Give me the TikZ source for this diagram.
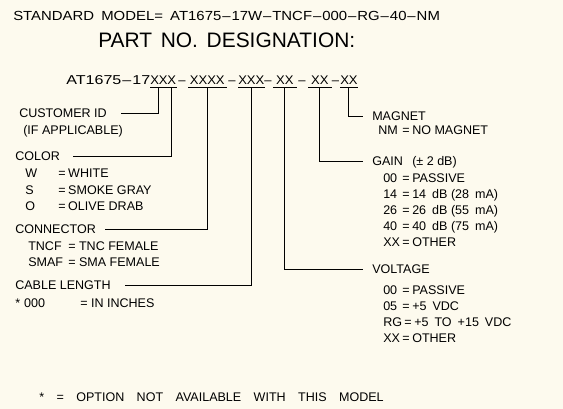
\documentclass[tikz,border=0pt]{standalone}
\usepackage{fontspec}
\setmainfont{Liberation Sans}[WordSpace=2.2]
\newfontfamily\widefont{Liberation Sans}[FakeStretch=1.04, Ligatures=TeX]
\newfontfamily\titlefont{Liberation Sans}[Ligatures=TeX]
\newcommand{\dsh}{\kern.6pt--\kern.6pt}
\newcommand{\eqto}{=\kern2pt}
\newcommand{\gp}{\hspace{4.5pt}}
\definecolor{paper}{RGB}{253,250,238}
\tikzset{
  txt/.style={anchor=base west, inner sep=0pt, font=\fontsize{9.4}{11}\selectfont},
  head/.style={txt, text depth=0pt},
  grp/.style={txt, text depth=0pt, minimum width=#1, font=\fontsize{9.4}{11}\widefont},
  lead/.style={line width=0.75pt},
}

\begin{document}
\begin{tikzpicture}[x=0.75pt, y=-0.75pt]
  \fill [paper] (0,0) rectangle (563,409);
  \useasboundingbox (0,0) rectangle (563,409);

  % model and title
  \path ( 13, 21) node [txt, font=\fontsize{9.4}{11}\titlefont] (model) {\resizebox{320pt}{6.9pt}{\spaceskip=4.5pt\relax STANDARD MODEL= AT1675\dsh17W\dsh TNCF\dsh000\dsh RG\dsh40\dsh NM}};
  \path ( 98, 48) node [txt, font=\fontsize{15.7}{18}\titlefont] (title) {\spaceskip=6.5pt\relax PART NO. DESIGNATION:};

  % part number with its groups
  \path ( 66, 85) node [txt] (prefix) {\resizebox{63pt}{6.75pt}{AT1675\dsh17}};
  \path (150, 85) node [grp=12.75pt] (cust) {XX};
  \path (167, 85) node [grp=6.75pt] (color) {X};
  \path (188, 85) node [grp=28.5pt] (conn) {XXXX};
  \path (238, 85) node [grp=18.75pt] (length) {XXX};
  \path (273, 85) node [grp=17.25pt] (volt) {XX};
  \path (308, 85) node [grp=17.25pt] (gain) {XX};
  \path (340, 85) node [grp=12.75pt] (mag) {XX};
  \foreach \x [count=\i] in {182,232,268,302,335.5}
    \path (\x, 85) node [txt, anchor=base, font=\fontsize{9.4}{11}\widefont] (dash\i) {--};
  \foreach \a/\b in {cust/color, conn/conn, length/length, volt/volt, gain/gain, mag/mag}
    \draw [lead] ([yshift=-2.25pt]\a.base west) -- ([yshift=-2.25pt]\b.base east);

  % left column
  \path ( 19,118) node [head] (custid) {CUSTOMER ID};
  \path ( 23,135) node [txt] (custif) {(IF APPLICABLE)};

  \path ( 15,161) node [head] (colorlbl) {COLOR};
  \foreach \c/\v [count=\i] in {W/WHITE, S/SMOKE GRAY, O/OLIVE DRAB} {
    \path (25, 161+16.6*\i) node [txt] (colc\i) {\c};
    \path (58, 161+16.6*\i) node [txt] (colv\i) {\eqto\v};
  }

  \path ( 15,234) node [head] (connlbl) {CONNECTOR};
  \foreach \c/\v [count=\i] in {TNCF/TNC FEMALE, SMAF/SMA FEMALE} {
    \path (28, 233.5+16.6*\i) node [txt] (connc\i) {\c};
    \path (68, 233.5+16.6*\i) node [txt] (connv\i) {= \v};
  }

  \path ( 15,290) node [head] (lenlbl) {CABLE LENGTH};
  \path ( 15,307) node [txt] (lenc) {*\kern3pt 000};
  \path ( 80,307) node [txt] (lenv) {= IN INCHES};

  % right column
  \path (372,121) node [head] (maglbl) {MAGNET};
  \path (378,135) node [txt] (magc) {NM};
  \path (402,135) node [txt] (magv) {\eqto NO MAGNET};

  \path (372,166) node [head] (gainlbl) {GAIN};
  \path (412,166) node [txt] (gainpm) {(± 2 dB)};
  \foreach \c/\v [count=\i] in {00/PASSIVE, 14/14\gp dB (28\gp mA), 26/26\gp dB (55\gp mA), 40/40\gp dB (75\gp mA), XX/OTHER} {
    \path (383, 166+16.1*\i) node [txt] (gainc\i) {\c};
    \path (402, 166+16.1*\i) node [txt] (gainv\i) {\eqto\v};
  }

  \path (372,274) node [head] (voltlbl) {VOLTAGE};
  \foreach \c/\e/\v [count=\i] in {00/402/PASSIVE, 05/402/+5\gp VDC, RG/404/+5\gp TO\gp +15\gp VDC, XX/402/OTHER} {
    \path (383, 278.5+16.1*\i) node [txt] (voltc\i) {\c};
    \path (\e, 278.5+16.1*\i) node [txt] (voltv\i) {\eqto\v};
  }

  % leaders
  \draw [lead] ([yshift=-2.25pt]cust.base) |- ([xshift=10.5pt]custid.east);
  \draw [lead] ([yshift=-2.25pt]color.base) |- ([xshift=9.75pt]colorlbl.east);
  \draw [lead] ([yshift=-2.25pt]conn.base) |- ([xshift=6.75pt]connlbl.east);
  \draw [lead] ([yshift=-2.25pt]length.base) |- ([xshift=10.5pt]lenlbl.east);
  \draw [lead] ([yshift=-2.25pt]volt.base) |- ([xshift=-6.75pt]voltlbl.west);
  \draw [lead] ([yshift=-2.25pt]gain.base) |- ([xshift=-6.75pt]gainlbl.west);
  \draw [lead] ([yshift=-2.25pt]mag.base) |- ([xshift=-6.75pt]maglbl.west);

  % note
  \path ( 39,401.7) node [txt] (note) {\spaceskip=9.3pt\relax * = OPTION NOT AVAILABLE WITH THIS MODEL};
\end{tikzpicture}
\end{document}
